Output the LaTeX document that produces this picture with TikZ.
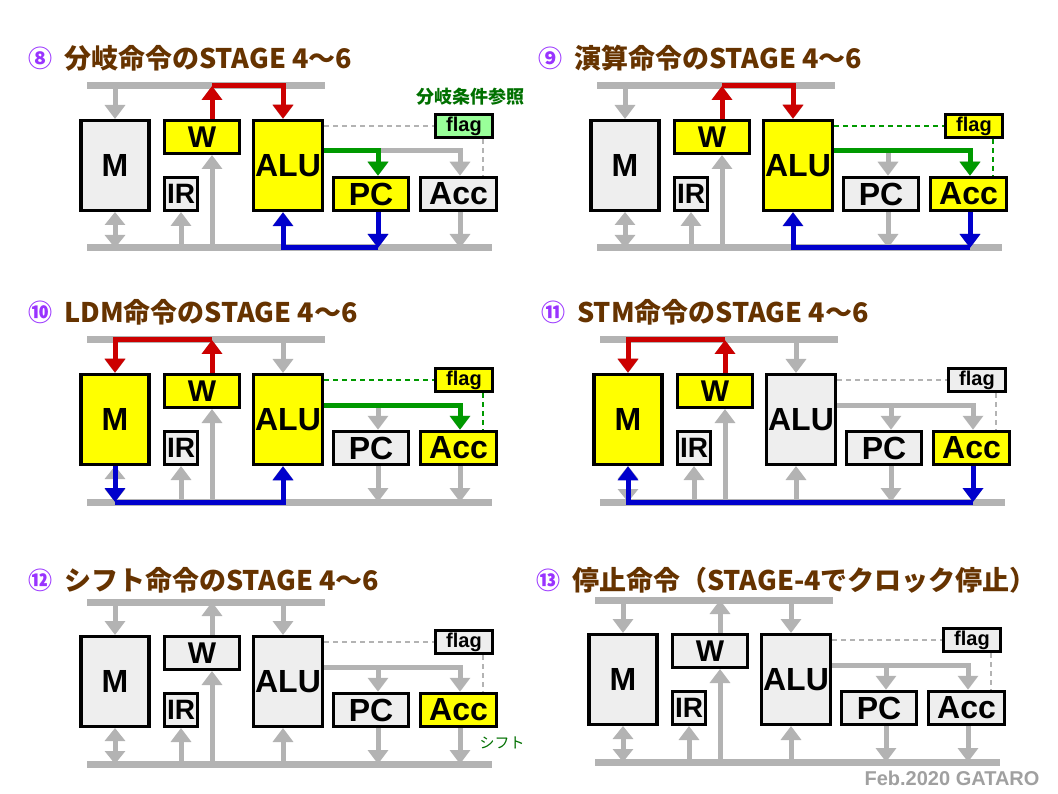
\documentclass[tikz,border=0pt]{standalone}
\usepackage{fontspec}
\setmainfont{Liberation Sans}
\newfontfamily\cjk{Noto Sans CJK JP}
\usetikzlibrary{arrows.meta}
\definecolor{gbus}{HTML}{B3B3B3}
\definecolor{boxg}{HTML}{EEEEEE}
\definecolor{ylw}{HTML}{FFFF00}
\definecolor{flg}{HTML}{99FF99}
\definecolor{rd}{HTML}{CC0000}
\definecolor{gr}{HTML}{009900}
\definecolor{bl}{HTML}{0000CC}
\definecolor{brn}{HTML}{663300}
\definecolor{ppl}{HTML}{9933FF}
\definecolor{lblg}{HTML}{007000}
\definecolor{ftg}{HTML}{A0A0A0}
\tikzset{
  bus/.style={gbus,line width=7pt},
  ar/.style={line width=5pt,-{Triangle[width=20pt,length=14pt]}},
  dar/.style={line width=5pt,{Triangle[width=20pt,length=13pt]}-{Triangle[width=20pt,length=13pt]}},
  gar/.style={ar,gbus},
  box/.style={draw=black,line width=3.5pt,inner sep=0pt,font=\bfseries},
  ttl/.style={anchor=west,text=brn,font=\cjk\bfseries\fontsize{27}{29}\selectfont,inner sep=0pt},
  num/.style={text=ppl,font=\cjk\bfseries\fontsize{24}{26}\selectfont,inner sep=0pt},
  dsh/.style={line width=2pt,dash pattern=on 5pt off 4pt},
}
% #1 M, #2 W, #3 ALU, #4 PC, #5 Acc, #6 flag fill, #7 dash colour
\newcommand\basepanel[7]{%
  \draw[bus] (87,86) coordinate (tl) -- (325,86) coordinate (tr);
  \draw[bus] (87,248) coordinate (bl0) -- (492,248) coordinate (br);
  \coordinate (tM) at (115,86); \coordinate (tW) at (212,86); \coordinate (tA) at (283,86);
  \coordinate (bM) at (115,248); \coordinate (bI) at (181,248); \coordinate (bW) at (212,248);
  \coordinate (bA) at (283,248); \coordinate (bP) at (378,248); \coordinate (bC) at (460,248);
  \coordinate (jP) at (378,151); \coordinate (jC) at (460,151); \coordinate (dF) at (483,151);
  \draw[gar] (tM) -- (115,119);
  \draw[gar] (212,119) -- (tW);
  \draw[gar] (tA) -- (283,119);
  \draw[dar,gbus] (bM) -- (115,212);
  \draw[gar] (bI) -- (181,212);
  \draw[gar] (bW) -- (212,155);
  \draw[gar] (bA) -- (283,212);
  \node[box,fill=#1,minimum width=68pt,minimum height=90pt,font=\bfseries\fontsize{32}{32}\selectfont] (M) at (115,165.5) {M};
  \node[box,fill=#2,minimum width=75pt,minimum height=33pt,font=\bfseries\fontsize{30}{30}\selectfont] (W) at (202,137) {W};
  \node[box,fill=boxg,minimum width=33pt,minimum height=33pt,font=\bfseries\fontsize{28}{28}\selectfont] (IR) at (181,194) {IR};
  \node[box,fill=#3,minimum width=69pt,minimum height=90pt,font=\bfseries\fontsize{32}{32}\selectfont] (ALU) at (288,165.5) {ALU};
  \node[box,fill=#4,minimum width=75pt,minimum height=33pt,font=\bfseries\fontsize{32}{32}\selectfont] (PC) at (371,194) {PC};
  \node[box,fill=#5,minimum width=76pt,minimum height=33pt,font=\bfseries\fontsize{32}{32}\selectfont] (Acc) at (458.5,194) {Acc};
  \node[box,fill=#6,minimum width=57pt,minimum height=23pt,font=\bfseries\fontsize{20}{20}\selectfont] (flag) at (464,126) {flag};
  \draw[gar] (bP |- PC.south) -- (bP);
  \draw[gar] (bC |- Acc.south) -- (bC);
  \draw[gar] (ALU.east |- jC) -- (jC) -- (jC |- Acc.north);
  \draw[gar] (jP) -- (jP |- PC.north);
  \draw[dsh,#7] (ALU.east |- flag.west) -- (flag.west);
  \draw[dsh,#7] (dF |- flag.south) -- (dF |- Acc.north);
}
\begin{document}
\begin{tikzpicture}[x=1pt,y=-1pt]
\useasboundingbox[fill=white] (0,0) rectangle (1058,794);
% 8
\begin{scope}[shift={(0,0)},name prefix=a-]
  \node[num] (n) at (40,58) {⑧};
  \node[ttl] (t) at (64,58) {分岐命令のSTAGE 4～6};
  \basepanel{boxg}{ylw}{ylw}{ylw}{boxg}{flg}{gbus}
  \node[text=lblg,font=\cjk\bfseries\fontsize{18}{20}\selectfont] (lbl) at (470,97) {分岐条件参照};
  \draw[ar,rd] (tW |- W.north) -- (tW);
  \draw[ar,rd] (tW) -- (tA) -- (tA |- ALU.north);
  \draw[ar,gr] (ALU.east |- jP) -- (jP) -- (jP |- PC.north);
  \draw[ar,bl] (bP |- PC.south) -- (bP);
  \draw[ar,bl] (bP) -- (bA) -- (bA |- ALU.south);
\end{scope}
% 9
\begin{scope}[shift={(510,0)},name prefix=b-]
  \node[num] (n) at (40,58) {⑨};
  \node[ttl] (t) at (64,58) {演算命令のSTAGE 4～6};
  \basepanel{boxg}{ylw}{ylw}{boxg}{ylw}{ylw}{gr}
  \draw[ar,rd] (tW |- W.north) -- (tW);
  \draw[ar,rd] (tW) -- (tA) -- (tA |- ALU.north);
  \draw[ar,gr] (ALU.east |- jC) -- (jC) -- (jC |- Acc.north);
  \draw[ar,bl] (bC |- Acc.south) -- (bC);
  \draw[ar,bl] (bC) -- (bA) -- (bA |- ALU.south);
\end{scope}
% 10
\begin{scope}[shift={(0,254)},name prefix=c-]
  \node[num] (n) at (40,58) {⑩};
  \node[ttl] (t) at (64,58) {LDM命令のSTAGE 4～6};
  \basepanel{ylw}{ylw}{ylw}{boxg}{ylw}{ylw}{gr}
  \draw[ar,rd] (tW |- W.north) -- (tW);
  \draw[ar,rd] (tW) -- (tM) -- (M.north);
  \draw[ar,gr] (ALU.east |- jC) -- (jC) -- (jC |- Acc.north);
  \draw[ar,bl] (bM |- M.south) -- (bM);
  \draw[ar,bl] (bM) -- (bA) -- (bA |- ALU.south);
\end{scope}
% 11
\begin{scope}[shift={(513,254)},name prefix=d-]
  \node[num] (n) at (40,58) {⑪};
  \node[ttl] (t) at (64,58) {STM命令のSTAGE 4～6};
  \basepanel{ylw}{ylw}{boxg}{boxg}{ylw}{boxg}{gbus}
  \draw[ar,rd] (tW |- W.north) -- (tW);
  \draw[ar,rd] (tW) -- (tM) -- (M.north);
  \draw[ar,bl] (bC |- Acc.south) -- (bC);
  \draw[ar,bl] (bC) -- (bM) -- (bM |- M.south);
\end{scope}
% 12
\begin{scope}[shift={(0,516)},name prefix=e-]
  \node[num] (n) at (40,64) {⑫};
  \node[ttl] (t) at (64,64) {シフト命令のSTAGE 4～6};
  \basepanel{boxg}{boxg}{boxg}{boxg}{ylw}{boxg}{gbus}
  \node[text=lblg,font=\cjk\fontsize{15}{17}\selectfont] (lbl) at (502,227) {シフト};
\end{scope}
% 13
\begin{scope}[shift={(508,514)},name prefix=f-]
  \node[num] (n) at (40,66) {⑬};
  \node[ttl] (t) at (64,66) {停止命令（STAGE-4でクロック停止）};
  \basepanel{boxg}{boxg}{boxg}{boxg}{boxg}{boxg}{gbus}
  \node[anchor=east,text=ftg,font=\bfseries\fontsize{20}{22}\selectfont] (ft) at (535,264) {Feb.2020 GATARO};
\end{scope}
\end{tikzpicture}
\end{document}
